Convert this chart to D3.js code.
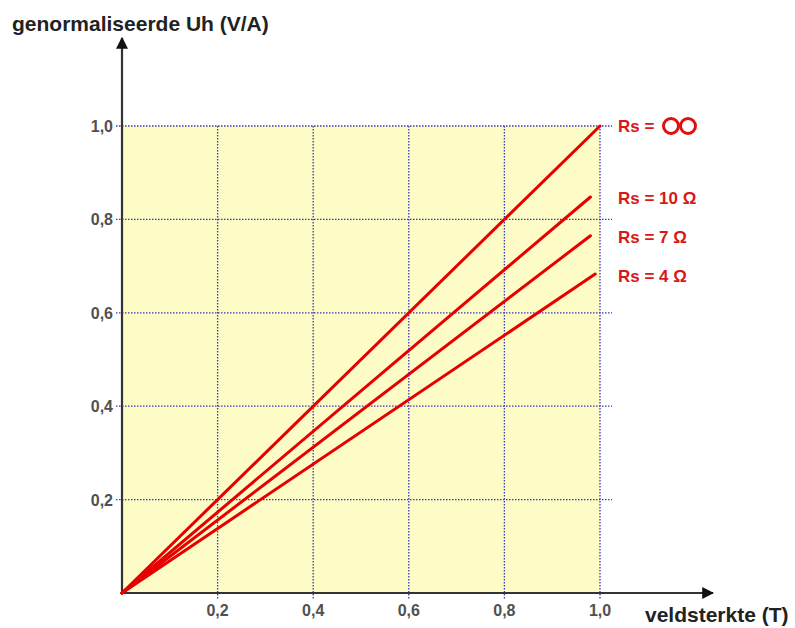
<!DOCTYPE html>
<html>
<head>
<meta charset="utf-8">
<script src="https://cdn.jsdelivr.net/npm/d3@7"></script>
<style>
  body { margin: 0; background: #fff; }
  text { font-family: "Liberation Sans", Arial, sans-serif; font-weight: bold; }
</style>
</head>
<body>
<svg id="chart" width="795" height="628"></svg>
<script>
// tick values on both axes
var xTicks = [0.2, 0.4, 0.6, 0.8, 1.0];
var yTicks = [0.2, 0.4, 0.6, 0.8, 1.0];
// series: each line runs from the origin to its end point
var seriesNames = ["Rs =", "Rs = 10 \u03A9", "Rs = 7 \u03A9", "Rs = 4 \u03A9"];
var seriesEndX = [1.0, 0.98, 0.98, 0.99];
var seriesEndY = [1.0, 0.848, 0.765, 0.683];

var svg = d3.select("#chart");
var x = d3.scaleLinear().domain([0, 1]).range([122, 600]);
var y = d3.scaleLinear().domain([0, 1]).range([593, 126]);
var fmt = function (d) { return d3.format(".1f")(d).replace(".", ","); };

// yellow plot area
svg.append("rect")
    .attr("x", x(0)).attr("y", y(1))
    .attr("width", x(1) - x(0)).attr("height", y(0) - y(1))
    .attr("fill", "#fdfbc6");

// dotted grid
var grid = svg.append("g").attr("stroke", "#3a3ab4").attr("stroke-width", 1.3)
    .attr("stroke-dasharray", "1.5,1.5");
grid.selectAll(".h").data(yTicks).enter().append("line")
    .attr("x1", x(0) - 6).attr("x2", x(1) + 12)
    .attr("y1", d => y(d)).attr("y2", d => y(d));
grid.selectAll(".v").data(xTicks).enter().append("line")
    .attr("y1", y(1)).attr("y2", y(0) + 6)
    .attr("x1", d => x(d)).attr("x2", d => x(d));

// tick labels
svg.selectAll(".yl").data(yTicks).enter().append("text")
    .attr("x", x(0) - 9).attr("y", d => y(d) + 6)
    .attr("text-anchor", "end").attr("font-size", 16).attr("fill", "#505050")
    .text(fmt);
svg.selectAll(".xl").data(xTicks).enter().append("text")
    .attr("x", d => x(d)).attr("y", 616)
    .attr("text-anchor", "middle").attr("font-size", 16).attr("fill", "#505050")
    .text(fmt);

// axes with arrows
svg.append("defs").append("marker")
    .attr("id", "arrow").attr("viewBox", "0 0 10 10")
    .attr("refX", 9).attr("refY", 5)
    .attr("markerWidth", 12).attr("markerHeight", 12)
    .attr("markerUnits", "userSpaceOnUse")
    .attr("orient", "auto")
    .append("path").attr("d", "M0,0 L10,5 L0,10 Z").attr("fill", "#111");
svg.append("line")
    .attr("x1", x(0)).attr("y1", y(0) + 1).attr("x2", x(0)).attr("y2", 38)
    .attr("stroke", "#333").attr("stroke-width", 2.2).attr("marker-end", "url(#arrow)");
svg.append("line")
    .attr("x1", x(0) - 1).attr("y1", y(0)).attr("x2", 713).attr("y2", y(0))
    .attr("stroke", "#333").attr("stroke-width", 2.2).attr("marker-end", "url(#arrow)");

// red lines
var idx = d3.range(seriesNames.length);
svg.selectAll(".series").data(idx).enter().append("line")
    .attr("x1", x(0)).attr("y1", y(0))
    .attr("x2", i => x(seriesEndX[i])).attr("y2", i => y(seriesEndY[i]))
    .attr("stroke", "#e60000").attr("stroke-width", 3).attr("stroke-linecap", "round");

// series labels
var labelY = [132, 204, 243, 282];
svg.selectAll(".sl").data(idx).enter().append("text")
    .attr("x", 618).attr("y", i => labelY[i])
    .attr("font-size", 17).attr("fill", "#d81818")
    .text(i => seriesNames[i]);
// infinity sign: two touching rings after the first label
svg.selectAll(".inf").data([671, 688]).enter().append("circle")
    .attr("cx", d => d).attr("cy", 126).attr("r", 7.5)
    .attr("fill", "none").attr("stroke", "#e01010").attr("stroke-width", 3);

// axis titles
svg.append("text").attr("x", 12).attr("y", 31)
    .attr("font-size", 21).attr("fill", "#222")
    .text("genormaliseerde Uh (V/A)");
svg.append("text").attr("x", 645).attr("y", 622)
    .attr("font-size", 21).attr("fill", "#222")
    .text("veldsterkte (T)");
</script>
</body>
</html>
